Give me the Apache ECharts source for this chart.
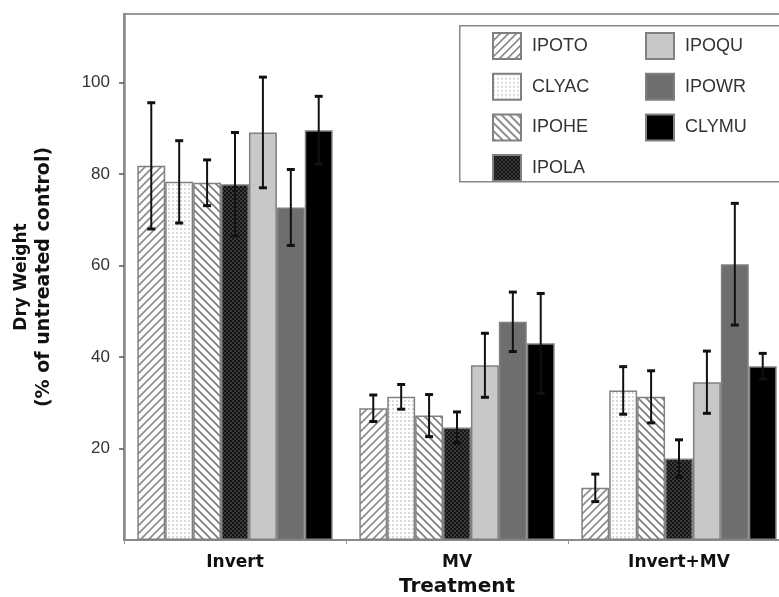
<!DOCTYPE html>
<html>
<head>
<meta charset="utf-8">
<script src="https://cdn.jsdelivr.net/npm/echarts@6/dist/echarts.min.js"></script>
<style>html,body{margin:0;padding:0;background:#fff;}#c{width:779px;height:597px;}</style>
</head>
<body>
<div id="c"></div>
<script>
const categories = ['Invert', 'MV', 'Invert+MV'];
const seriesNames = ['IPOTO', 'CLYAC', 'IPOHE', 'IPOLA', 'IPOQU', 'IPOWR', 'CLYMU'];
const yTicks = [20, 40, 60, 80, 100];

const IPOTO = [81.8, 28.8, 11.4];
const CLYAC = [78.3, 31.3, 32.7];
const IPOHE = [78.1, 27.2, 31.3];
const IPOLA = [77.8, 24.6, 17.8];
const IPOQU = [89.1, 38.2, 34.5];
const IPOWR = [72.7, 47.7, 60.3];
const CLYMU = [89.6, 43.0, 38.0];

const IPOTO_err = [13.8, 2.9, 3.0];
const CLYAC_err = [9.0, 2.7, 5.2];
const IPOHE_err = [5.0, 4.6, 5.7];
const IPOLA_err = [11.3, 3.4, 4.1];
const IPOQU_err = [12.1, 7.0, 6.8];
const IPOWR_err = [8.3, 6.5, 13.3];
const CLYMU_err = [7.4, 10.9, 2.8];

const values = [IPOTO, CLYAC, IPOHE, IPOLA, IPOQU, IPOWR, CLYMU];
const errors = [IPOTO_err, CLYAC_err, IPOHE_err, IPOLA_err, IPOQU_err, IPOWR_err, CLYMU_err];

function tile(size, draw) {
  const c = document.createElement('canvas');
  c.width = size; c.height = size;
  const g = c.getContext('2d');
  draw(g, size);
  return { image: c, repeat: 'repeat' };
}
const fwd = tile(8, (g, s) => {
  g.fillStyle = '#fff'; g.fillRect(0, 0, s, s);
  g.strokeStyle = '#8a8a8a'; g.lineWidth = 1.6;
  g.beginPath();
  g.moveTo(-1, s + 1); g.lineTo(s + 1, -1);
  g.moveTo(-1, 1); g.lineTo(1, -1);
  g.moveTo(s - 1, s + 1); g.lineTo(s + 1, s - 1);
  g.stroke();
});
const back = tile(8, (g, s) => {
  g.fillStyle = '#fff'; g.fillRect(0, 0, s, s);
  g.strokeStyle = '#7a7a7a'; g.lineWidth = 1.6;
  g.beginPath();
  g.moveTo(-1, -1); g.lineTo(s + 1, s + 1);
  g.moveTo(s - 1, -1); g.lineTo(s + 1, 1);
  g.moveTo(-1, s - 1); g.lineTo(1, s + 1);
  g.stroke();
});
const dots = tile(4, (g, s) => {
  g.fillStyle = '#fff'; g.fillRect(0, 0, s, s);
  g.fillStyle = '#d8d8d8'; g.fillRect(0, 0, 2, 2);
});
const dark = tile(4, (g, s) => {
  g.fillStyle = '#141414'; g.fillRect(0, 0, s, s);
  g.fillStyle = '#3a3a3a'; g.fillRect(0, 0, 2, 2); g.fillRect(2, 2, 2, 2);
});
const fills = [fwd, dots, back, dark, '#c8c8c8', '#6e6e6e', '#000000'];

const barSeries = seriesNames.map((name, i) => ({
  name: name,
  type: 'bar',
  data: values[i],
  barGap: 0,
  barCategoryGap: '12%',
  itemStyle: { color: fills[i], borderColor: '#808080', borderWidth: 1.5 },
  emphasis: { disabled: true },
  z: 2
}));

const errData = [];
seriesNames.forEach((n, s) => {
  categories.forEach((c, k) => {
    errData.push([k, s, values[s][k], errors[s][k]]);
  });
});

const errSeries = {
  type: 'custom',
  z: 5,
  encode: { x: 0, y: 2 },
  data: errData,
  renderItem: function (params, api) {
    const cat = api.value(0), s = api.value(1), v = api.value(2), e = api.value(3);
    const band = api.size([1, 0])[0];
    const barW = band * 0.88 / 7;
    const cx = api.coord([cat, 0])[0] - band * 0.44 + barW * (s + 0.5);
    const yt = api.coord([cat, v + e])[1];
    const yb = api.coord([cat, v - e])[1];
    const cap = 4;
    const st = { stroke: '#111', lineWidth: 2 };
    return {
      type: 'group',
      children: [
        { type: 'line', shape: { x1: cx, y1: yt, x2: cx, y2: yb }, style: st },
        { type: 'line', shape: { x1: cx - cap, y1: yt, x2: cx + cap, y2: yt }, style: { stroke: '#111', lineWidth: 3 } },
        { type: 'line', shape: { x1: cx - cap, y1: yb, x2: cx + cap, y2: yb }, style: { stroke: '#111', lineWidth: 3 } }
      ]
    };
  }
};

const legendBase = {
  orient: 'vertical',
  top: 32,
  padding: 0,
  itemWidth: 28,
  itemHeight: 26,
  itemGap: 12.7,
  icon: 'rect',
  selectedMode: false,
  textStyle: { fontFamily: 'Liberation Sans', fontSize: 18, color: '#333', padding: [0, 0, 0, 6] }
};

const chart = echarts.init(document.getElementById('c'), null, { renderer: 'canvas' });
chart.setOption({
  animation: false,
  backgroundColor: '#fff',
  grid: { left: 124, right: -11, top: 14, bottom: 57, show: true, borderColor: '#999', borderWidth: 2, outerBoundsMode: 'none', containLabel: false },
  legend: [
    Object.assign({}, legendBase, { left: 492, data: seriesNames.slice(0, 4) }),
    Object.assign({}, legendBase, { left: 645, data: seriesNames.slice(4) })
  ],
  graphic: [{
    type: 'rect', left: 459, top: 25, z: 0,
    shape: { width: 400, height: 156 },
    style: { fill: '#fff', stroke: '#888', lineWidth: 1.5 }
  }],
  xAxis: {
    type: 'category',
    data: categories,
    name: 'Treatment',
    nameLocation: 'middle',
    nameGap: 37,
    nameTextStyle: { fontFamily: 'DejaVu Sans', fontWeight: 'bold', fontSize: 20, color: '#111' },
    axisLine: { lineStyle: { color: '#8a8a8a', width: 2 } },
    axisTick: { show: true, length: 4, lineStyle: { color: '#999' } },
    axisLabel: { margin: 14, fontFamily: 'DejaVu Sans', fontWeight: 'bold', fontSize: 17, color: '#111' }
  },
  yAxis: {
    type: 'value',
    min: 0,
    max: 115,
    interval: 20,
    name: '{a|Dry Weight}\n{b|(% of untreated control)}',
    nameLocation: 'middle',
    nameRotate: 90,
    nameGap: 68,
    nameTextStyle: {
      fontFamily: 'DejaVu Sans', fontWeight: 'bold', color: '#111', align: 'center',
      rich: {
        a: { fontFamily: 'DejaVu Sans', fontWeight: 'bold', fontSize: 17, lineHeight: 23, color: '#111' },
        b: { fontFamily: 'DejaVu Sans', fontWeight: 'bold', fontSize: 19, lineHeight: 23, color: '#111' }
      }
    },
    splitLine: { show: false },
    axisLine: { show: true, lineStyle: { color: '#8a8a8a', width: 2.5 } },
    axisTick: { show: true, length: 5, customValues: yTicks, lineStyle: { color: '#555', width: 1.5 } },
    axisLabel: { customValues: yTicks, margin: 14, fontFamily: 'Liberation Sans', fontSize: 17, color: '#333' }
  },
  series: barSeries.concat([errSeries])
});
</script>
</body>
</html>
